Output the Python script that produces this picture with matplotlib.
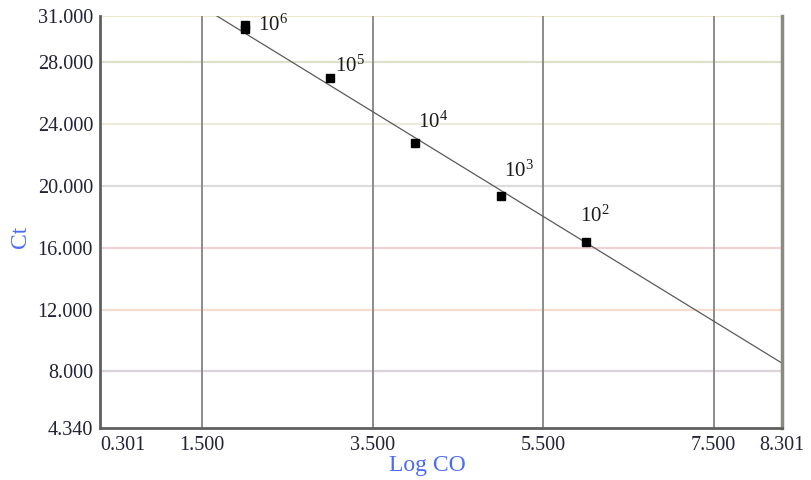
import matplotlib
matplotlib.use("Agg")
import matplotlib.pyplot as plt
import numpy as np

plt.rcParams['font.family'] = ['Liberation Serif', 'DejaVu Serif']
plt.rcParams['mathtext.fontset'] = 'custom'
plt.rcParams['mathtext.rm'] = 'Liberation Serif'

# données
log_co = [2.0, 2.0, 3.0, 4.0, 5.0, 6.0]
ct = [30.42, 30.16, 27.02, 22.75, 19.35, 16.40]
labels = [r"$\mathregular{10^6}$", None, r"$\mathregular{10^5}$", r"$\mathregular{10^4}$",
          r"$\mathregular{10^3}$", r"$\mathregular{10^2}$"]
lbl_off = [(13, 0), None, (5, 11), (3, 21), (3, 25), (-6, 25)]  # pixels
fit_slope, fit_icpt = -3.389, 36.67

xticks = [0.301, 1.5, 3.5, 5.5, 7.5, 8.301]
yticks = [4.34, 8.0, 12.0, 16.0, 20.0, 24.0, 28.0, 31.0]
vgrid = [1.5, 3.5, 5.5, 7.5]
hgrid = [8.0, 12.0, 16.0, 20.0, 24.0, 28.0, 31.0]
hgrid_col = ["#dcd2dc", "#f4dccf", "#f0d2d0", "#dcdcdc", "#eeeadb", "#dde0cb", "#ece8cf"]

fig = plt.figure(figsize=(8.12, 4.8), dpi=100)
ax = fig.add_axes([100/812, 52/480, 682/812, 412/480])
ax.set_xlim(0.301, 8.301); ax.set_ylim(4.34, 31.0)

for y, c in zip(hgrid, hgrid_col):
    ax.axhline(y, color=c, lw=1.6, zorder=1)
for x in vgrid:
    ax.axvline(x, color="#8c8c8c", lw=1.4, zorder=1)

xl = np.array([0.301, 8.301])
ax.plot(xl, fit_slope * xl + fit_icpt, color="#5a5a5a", lw=0.9, zorder=2)
ax.plot(log_co, ct, ls="none", marker="s", ms=5.5, color="black", mec="black", zorder=3)

for x, y, t, o in zip(log_co, ct, labels, lbl_off):
    if t is None: continue
    ax.annotate(t, (x, y), xytext=o, textcoords="offset pixels",
                ha="left", va="center", fontsize=15, color="#1a1a1a")

ax.set_xticks(xticks)
ax.set_xticklabels([f"{v:.3f}" for v in xticks])
ax.set_yticks(yticks)
ax.set_yticklabels([f"{v:.3f}" for v in yticks])
ax.get_xticklabels()[0].set_ha("left")
ax.tick_params(length=0, labelsize=14.5, colors="#222238")
ax.tick_params(axis="x", pad=6); ax.tick_params(axis="y", pad=5)

ax.spines["top"].set_visible(False)
for s in ("left", "bottom"):
    ax.spines[s].set_color("#606060"); ax.spines[s].set_linewidth(2)
ax.spines["right"].set_color("#8a8a80"); ax.spines["right"].set_linewidth(2.5)

fig.text(427/812, 1 - 466/480, "Log CO", color="#4a6cf7", fontsize=17,
         ha="center", va="center")
fig.text(21/812, 1 - 237/480, "Ct", color="#4a6cf7", fontsize=17,
         ha="center", va="center", rotation=90)

fig.savefig("out.png", dpi=100)
